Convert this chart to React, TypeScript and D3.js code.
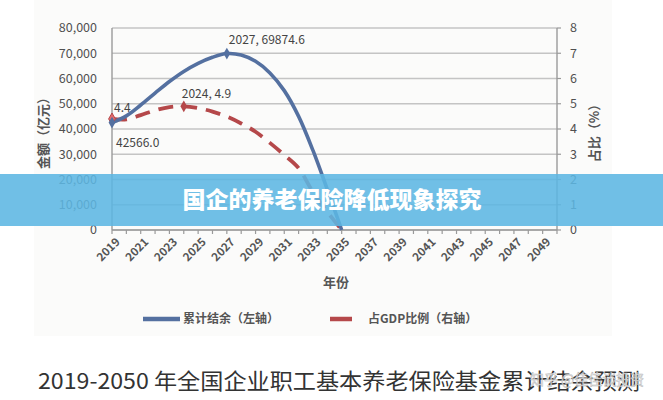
import React from 'react';
import * as d3 from 'd3';

const years = d3.range(2019, 2051);
const balanceYears = d3.range(2019, 2036);
// 累计结余（亿元）
const balance = [
  42566.0, 45200, 49500, 54200, 58800, 62800, 66000, 68400, 69874.6, 69300, 66800, 62200,
  55200, 45000, 31500, 16000, 0,
];
// 占GDP比例（%）
const ratio = [4.4, 4.38, 4.55, 4.74, 4.87, 4.9, 4.83, 4.69, 4.49, 4.22, 3.89, 3.45, 2.97, 2.45, 1.5, 0.72, 0];
const leftTicks = d3.range(0, 80001, 10000);
const rightTicks = d3.range(0, 9);
const labelYears = d3.range(2019, 2050, 2);

const FONT = '"Noto Sans CJK SC", "Noto Sans", sans-serif';

const App = () => {
  const width = 663;
  const height = 400;
  const left = 112;
  const right = 557;
  const top = 28;
  const bottom = 230;

  const x = d3.scaleLinear().domain([2019, 2050]).range([left, right]);
  const yL = d3.scaleLinear().domain([0, 80000]).range([bottom, top]);
  const yR = d3.scaleLinear().domain([0, 8]).range([bottom, top]);

  const blueLine = d3
    .line<number>()
    .x((d, i) => x(balanceYears[i]))
    .y((d) => yL(d))
    .curve(d3.curveCatmullRom.alpha(0.5));
  const redLine = d3
    .line<number>()
    .x((d, i) => x(balanceYears[i]))
    .y((d) => yR(d))
    .curve(d3.curveCatmullRom.alpha(0.5));

  const diamond = d3.symbol(d3.symbolDiamond, 40)() || undefined;

  return (
    <svg width={width} height={height} style={{ position: 'absolute', left: 0, top: 0 }}>
      <rect x={0} y={0} width={width} height={height} fill="#ffffff" />
      <rect x={34} y={0} width={578} height={336} fill="#fbfbfa" />

      {/* gridlines */}
      {leftTicks.map((t) => (
        <line key={t} x1={left} x2={right} y1={yL(t)} y2={yL(t)} stroke="#c4c4c4" strokeWidth={1.6} />
      ))}
      {/* axes */}
      <line x1={left} x2={left} y1={top} y2={bottom} stroke="#9a9a9a" strokeWidth={1.4} />
      <line x1={right} x2={right} y1={top} y2={bottom} stroke="#9a9a9a" strokeWidth={1.4} />
      <line x1={left} x2={right} y1={bottom} y2={bottom} stroke="#9a9a9a" strokeWidth={1.6} />
      {years.map((yr) => (
        <line key={yr} x1={x(yr)} x2={x(yr)} y1={bottom} y2={bottom + 4} stroke="#9a9a9a" strokeWidth={1.2} />
      ))}
      {rightTicks.map((t) => (
        <line key={t} x1={right} x2={right + 4} y1={yR(t)} y2={yR(t)} stroke="#9a9a9a" strokeWidth={1.2} />
      ))}

      {/* left tick labels */}
      {leftTicks.map((t) => (
        <text
          key={t}
          x={97}
          y={yL(t)}
          dy="0.35em"
          textAnchor="end"
          fontFamily={FONT}
          fontSize={12.5}
          fill="#505050"
        >
          {d3.format(',')(t)}
        </text>
      ))}
      {/* right tick labels */}
      {rightTicks.map((t) => (
        <text key={t} x={570} y={yR(t)} dy="0.35em" fontFamily={FONT} fontSize={12.5} fill="#505050">
          {t}
        </text>
      ))}
      {/* x tick labels */}
      {labelYears.map((yr) => (
        <text
          key={yr}
          transform={`translate(${x(yr) + 3},${bottom + 7}) rotate(-45)`}
          textAnchor="end"
          dy="0.7em"
          fontFamily={FONT}
          fontSize={11.5}
          fontWeight={700}
          fill="#555"
        >
          {yr}
        </text>
      ))}

      {/* axis titles */}
      <text
        transform="translate(43,130) rotate(-90)"
        textAnchor="middle"
        dy="0.35em"
        fontFamily={FONT}
        fontSize={13}
        fontWeight={700}
        fill="#555"
      >
        金额（亿元）
      </text>
      <text
        transform="translate(594,130) rotate(-90)"
        textAnchor="middle"
        dy="0.35em"
        fontFamily={FONT}
        fontSize={13}
        fontWeight={700}
        fill="#555"
      >
        占比（%）
      </text>
      <text x={336} y={287} textAnchor="middle" fontFamily={FONT} fontSize={13} fontWeight={700} fill="#555">
        年份
      </text>

      {/* series */}
      <path d={redLine(ratio) || undefined} fill="none" stroke="#b5484a" strokeWidth={3.8} strokeDasharray="15 9" />
      <path d={blueLine(balance) || undefined} fill="none" stroke="#5470a0" strokeWidth={3.6} />

      {/* markers */}
      <path d={diamond} transform={`translate(${x(2019)},${yR(ratio[0])})`} fill="#e46b6b" stroke="#b5484a" />
      <path d={diamond} transform={`translate(${x(2024)},${yR(ratio[5])})`} fill="#b5484a" />
      <path d={diamond} transform={`translate(${x(2019)},${yL(balance[0])})`} fill="#5470a0" />
      <path d={diamond} transform={`translate(${x(2027)},${yL(balance[8])})`} fill="#5470a0" />

      {/* data labels */}
      <text x={x(2027) + 2} y={yL(balance[8]) - 10} fontFamily={FONT} fontSize={12} fill="#444">
        2027, 69874.6
      </text>
      <text x={x(2019) + 4} y={yL(balance[0]) + 24} fontFamily={FONT} fontSize={12} fill="#444">
        {d3.format('.1f')(balance[0])}
      </text>
      <text x={x(2019) + 2} y={yR(ratio[0]) - 7} fontFamily={FONT} fontSize={12} fill="#444">
        {ratio[0]}
      </text>
      <text x={x(2024) - 2} y={yR(ratio[5]) - 8} fontFamily={FONT} fontSize={12} fill="#444">
        2024, {ratio[5]}
      </text>

      {/* legend */}
      <line x1={143} x2={180} y1={319} y2={319} stroke="#5470a0" strokeWidth={4.5} />
      <text x={183} y={319} dy="0.35em" fontFamily={FONT} fontSize={12} fontWeight={700} fill="#555">
        累计结余（左轴）
      </text>
      <line x1={330} x2={352} y1={319} y2={319} stroke="#b5484a" strokeWidth={4.5} />
      <text x={368} y={319} dy="0.35em" fontFamily={FONT} fontSize={12} fontWeight={700} fill="#555">
        占GDP比例（右轴）
      </text>

      {/* subtitle */}
      <text x={38} y={389} fontFamily={FONT} fontSize={22} fill="#333" textLength={602} lengthAdjust="spacingAndGlyphs">
        2019-2050 年全国企业职工基本养老保险基金累计结余预测
      </text>
      <text
        x={530}
        y={385}
        fontFamily={FONT}
        fontSize={15}
        fill="#f2f2f2"
        stroke="#b0b0b0"
        strokeWidth={0.5}
        opacity={0.9}
        textLength={114}
        lengthAdjust="spacingAndGlyphs"
      >
        知乎 @佳佳谈投资
      </text>

      {/* banner */}
      <rect x={0} y={174} width={width} height={52} fill="#5cb6e2" opacity={0.88} />
      <text
        x={332}
        y={200}
        dy="0.36em"
        textAnchor="middle"
        fontFamily={FONT}
        fontSize={23}
        fontWeight={900}
        fill="#ffffff"
      >
        国企的养老保险降低现象探究
      </text>
    </svg>
  );
};

export default App;
